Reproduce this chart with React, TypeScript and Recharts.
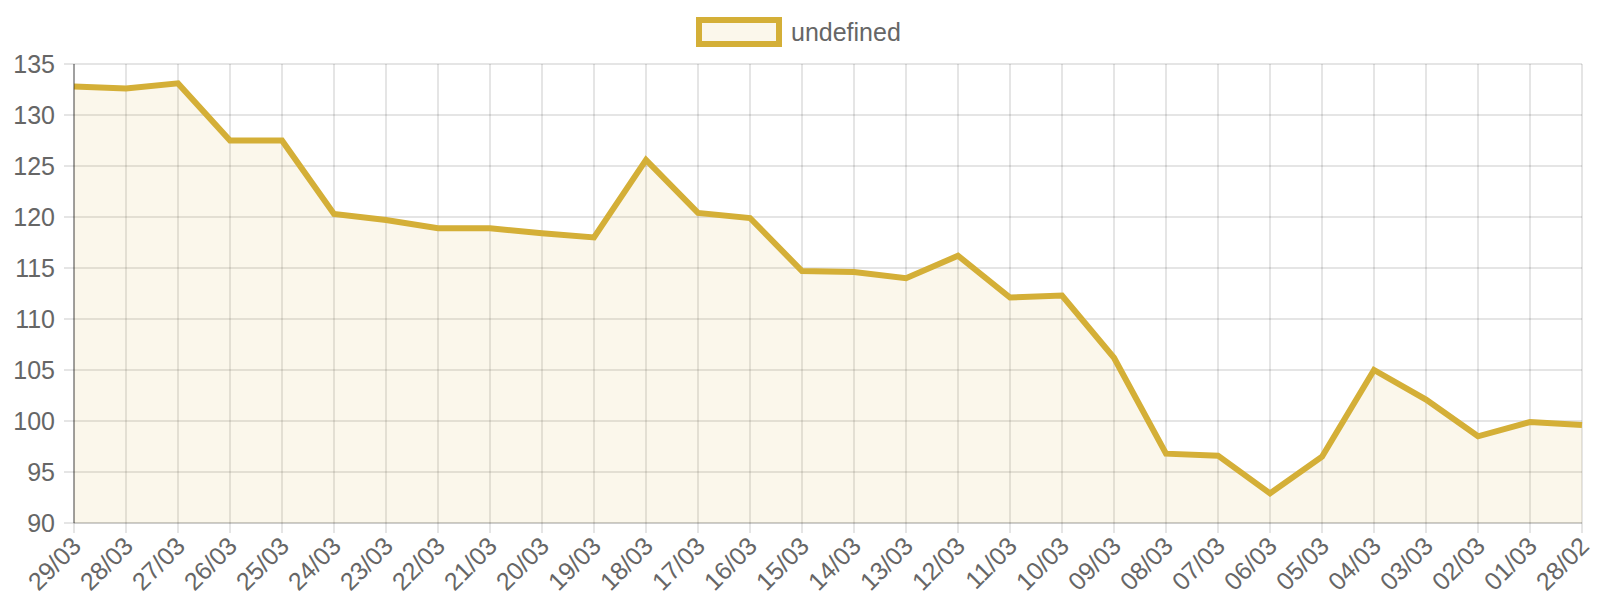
import React from 'react';
import { AreaChart, Area, XAxis, YAxis, CartesianGrid } from 'recharts';

// dates, newest first as in the original chart
const dates = [
  '29/03', '28/03', '27/03', '26/03', '25/03', '24/03', '23/03', '22/03', '21/03', '20/03',
  '19/03', '18/03', '17/03', '16/03', '15/03', '14/03', '13/03', '12/03', '11/03', '10/03',
  '09/03', '08/03', '07/03', '06/03', '05/03', '04/03', '03/03', '02/03', '01/03', '28/02',
];

const prices = [
  132.8, 132.6, 133.1, 127.5, 127.5, 120.3, 119.7, 118.9, 118.9, 118.4,
  118.0, 125.6, 120.4, 119.9, 114.7, 114.6, 114.0, 116.2, 112.1, 112.3,
  106.2, 96.8, 96.6, 92.9, 96.5, 105.0, 102.1, 98.5, 99.9, 99.6,
];

const yTicks = [90, 95, 100, 105, 110, 115, 120, 125, 130, 135];

const seriesName = 'undefined';

const data = dates.map((d, i) => ({ date: d, price: prices[i] }));

const FONT = '"Liberation Sans", Arial, Helvetica, sans-serif';
const FONT_SIZE = 25;
const GOLD = '#d4af37';
const FILL = 'rgba(212, 175, 55, 0.1)';
const GRID = 'rgba(0, 0, 0, 0.1)';

// rotated date labels under the x axis
const DateTick = ({ x, y, payload }: any) => (
  <text
    x={x + 4}
    y={y + 8}
    transform={`rotate(-45, ${x + 4}, ${y + 8})`}
    textAnchor="end"
    dominantBaseline="middle"
    fill="#666"
    fontSize={FONT_SIZE}
    fontFamily={FONT}
  >
    {payload.value}
  </text>
);

export default function App() {
  return (
    <div style={{ position: 'absolute', left: 0, top: 0, width: 1600, height: 600, fontFamily: FONT }}>
      <div
        style={{
          position: 'absolute',
          left: 696,
          top: 17,
          display: 'flex',
          alignItems: 'center',
          height: 30,
        }}
      >
        <div
          style={{
            width: 74,
            height: 18,
            border: `6px solid ${GOLD}`,
            background: FILL,
          }}
        />
        <span style={{ marginLeft: 9, fontSize: FONT_SIZE, color: '#666', lineHeight: '30px' }}>{seriesName}</span>
      </div>
      <AreaChart
        width={1600}
        height={600}
        data={data}
        margin={{ top: 64, right: 18, left: 0, bottom: 0 }}
      >
        <CartesianGrid stroke={GRID} strokeWidth={2} />
        <XAxis
          dataKey="date"
          height={77}
          interval={0}
          tick={<DateTick />}
          tickSize={10}
          tickLine={{ stroke: GRID, strokeWidth: 2 }}
          axisLine={{ stroke: GRID, strokeWidth: 2 }}
        />
        <YAxis
          width={74}
          domain={[90, 135]}
          ticks={yTicks}
          interval={0}
          tickSize={10}
          tickMargin={9}
          tick={{ fill: '#666', fontSize: FONT_SIZE, fontFamily: FONT }}
          tickLine={{ stroke: GRID, strokeWidth: 2 }}
          axisLine={{ stroke: 'rgba(0, 0, 0, 0.3)', strokeWidth: 2 }}
        />
        <Area
          type="linear"
          dataKey="price"
          name={seriesName}
          stroke={GOLD}
          strokeWidth={6}
          strokeLinejoin="miter"
          fill={FILL}
          fillOpacity={1}
          dot={false}
          activeDot={false}
          isAnimationActive={false}
        />
      </AreaChart>
    </div>
  );
}
